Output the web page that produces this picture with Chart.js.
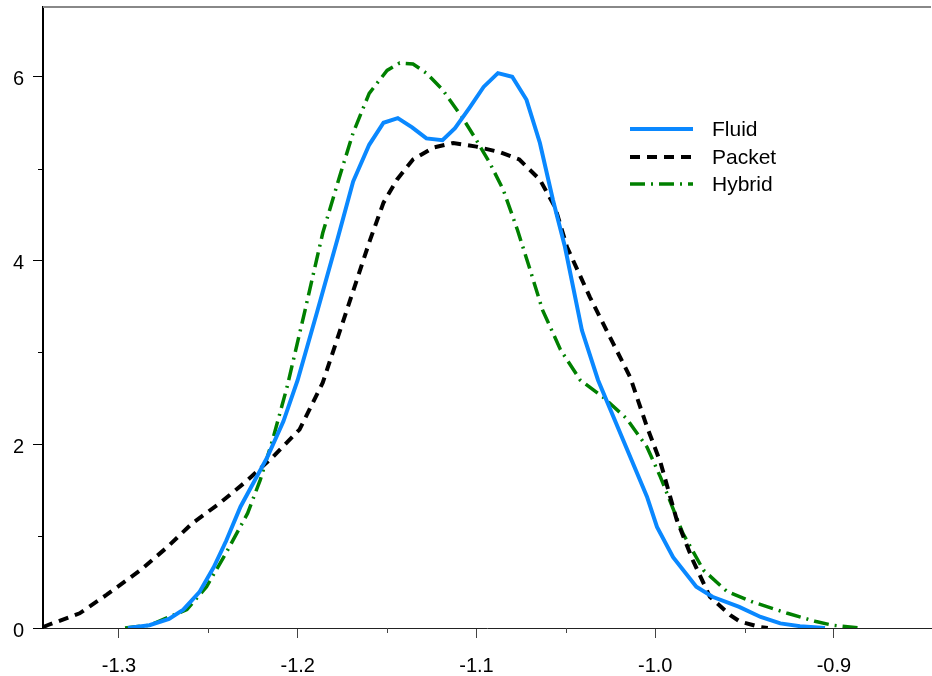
<!DOCTYPE html>
<html>
<head>
<meta charset="utf-8">
<script src="https://cdn.jsdelivr.net/npm/chart.js@4/dist/chart.umd.min.js"></script>
<style>
  body { margin: 0; background: #fff; }
  #wrap { width: 932px; height: 676px; }
</style>
</head>
<body>
<div id="wrap"><canvas id="chart" width="932" height="676"></canvas></div>
<script>
// density curves
const fluidX = [-1.295, -1.283, -1.272, -1.264, -1.255, -1.247, -1.240, -1.232, -1.217, -1.208,
  -1.200, -1.189, -1.1775, -1.169, -1.160, -1.152, -1.144, -1.136, -1.128, -1.119,
  -1.112, -1.104, -1.096, -1.088, -1.080, -1.072, -1.0645, -1.0572, -1.0505, -1.041,
  -1.032, -1.018, -1.0046, -0.999, -0.990, -0.977, -0.968, -0.953, -0.941, -0.930,
  -0.919, -0.905];
const fluidY = [0.0, 0.03, 0.10, 0.20, 0.39, 0.66, 0.95, 1.32, 1.86, 2.25,
  2.70, 3.45, 4.25, 4.86, 5.26, 5.50, 5.55, 5.45, 5.33, 5.31,
  5.44, 5.66, 5.89, 6.04, 6.00, 5.75, 5.28, 4.66, 4.15, 3.24,
  2.70, 2.05, 1.43, 1.10, 0.77, 0.45, 0.34, 0.23, 0.12, 0.05,
  0.02, 0.0];

const packetX = [-1.3425, -1.340, -1.322, -1.307, -1.288, -1.273, -1.259, -1.2435, -1.228, -1.214,
  -1.199, -1.186, -1.171, -1.1596, -1.152, -1.1445, -1.1355, -1.124, -1.113, -1.100,
  -1.087, -1.076, -1.0645, -1.056, -1.0494, -1.0365, -1.0236, -1.014, -1.0046, -0.997,
  -0.988, -0.979, -0.9694, -0.958, -0.9526, -0.941, -0.937];
const packetY = [0.01, 0.03, 0.16, 0.36, 0.63, 0.88, 1.14, 1.36, 1.61, 1.86,
  2.16, 2.67, 3.55, 4.22, 4.63, 4.88, 5.10, 5.23, 5.28, 5.24,
  5.18, 5.10, 4.88, 4.58, 4.15, 3.60, 3.10, 2.73, 2.19, 1.80,
  1.18, 0.74, 0.34, 0.14, 0.07, 0.01, 0.0];

const hybridX = [-1.2966, -1.283, -1.262, -1.251, -1.240, -1.228, -1.221, -1.214, -1.206, -1.196,
  -1.186, -1.176, -1.169, -1.160, -1.150, -1.143, -1.1355, -1.128, -1.119, -1.108,
  -1.100, -1.0925, -1.085, -1.077, -1.070, -1.063, -1.053, -1.042, -1.029, -1.016,
  -1.0046, -0.997, -0.9845, -0.973, -0.960, -0.945, -0.926, -0.910, -0.9006, -0.8855];
const hybridY = [0.0, 0.03, 0.20, 0.45, 0.82, 1.25, 1.61, 2.05, 2.62, 3.45,
  4.30, 4.95, 5.39, 5.82, 6.07, 6.15, 6.14, 6.04, 5.86, 5.56,
  5.31, 5.06, 4.77, 4.33, 3.90, 3.46, 3.03, 2.70, 2.51, 2.28,
  1.97, 1.64, 1.03, 0.63, 0.40, 0.28, 0.16, 0.07, 0.03, 0.0];

const seriesNames = ["Fluid", "Packet", "Hybrid"];

const majorX = [-1.3, -1.2, -1.1, -1.0, -0.9];
const minorX = [-1.25, -1.15, -1.05, -0.95];
const majorY = [0, 2, 4, 6];
const minorY = [1, 3, 5];

const FAMILY = "'Liberation Sans', Arial, sans-serif";
const FONT = { family: FAMILY, size: 20 };

function pts(xs, ys) {
  return xs.map((x, i) => ({ x: x, y: ys[i] }));
}

// top frame line, minor ticks and the legend inside the plot
const extras = {
  id: "extras",
  afterDraw(chart) {
    const ctx = chart.ctx;
    const a = chart.chartArea;
    const sx = chart.scales.x, sy = chart.scales.y;
    ctx.save();
    ctx.strokeStyle = "#888";
    ctx.lineWidth = 2;
    ctx.beginPath();
    ctx.moveTo(a.left, a.top);
    ctx.lineTo(a.right, a.top);
    ctx.stroke();

    ctx.lineWidth = 1;
    ctx.strokeStyle = "#444";
    minorX.forEach(v => {
      const px = Math.round(sx.getPixelForValue(v)) + 0.5;
      ctx.beginPath();
      ctx.moveTo(px, a.bottom);
      ctx.lineTo(px, a.bottom + 5);
      ctx.stroke();
    });
    ctx.strokeStyle = "#000";
    minorY.forEach(v => {
      const py = Math.round(sy.getPixelForValue(v)) + 0.5;
      ctx.beginPath();
      ctx.moveTo(a.left - 5, py);
      ctx.lineTo(a.left, py);
      ctx.stroke();
    });

    // legend
    const ly = [129, 157, 184];
    chart.data.datasets.forEach((ds, i) => {
      ctx.strokeStyle = ds.borderColor;
      ctx.lineWidth = ds.borderWidth;
      ctx.setLineDash(ds.borderDash || []);
      ctx.lineCap = "butt";
      ctx.beginPath();
      ctx.moveTo(630, ly[i]);
      ctx.lineTo(693, ly[i]);
      ctx.stroke();
      ctx.setLineDash([]);
      ctx.fillStyle = "#000";
      ctx.font = "21px " + FAMILY;
      ctx.textBaseline = "middle";
      ctx.textAlign = "left";
      ctx.fillText(ds.label, 712, ly[i] + 1);
    });
    ctx.restore();
  }
};

new Chart(document.getElementById("chart"), {
  type: "line",
  data: {
    datasets: [
      {
        label: seriesNames[0],
        data: pts(fluidX, fluidY),
        borderColor: "#0a88ff",
        borderWidth: 4,
        pointRadius: 0,
        tension: 0
      },
      {
        label: seriesNames[1],
        data: pts(packetX, packetY),
        borderColor: "#000",
        borderWidth: 4,
        borderDash: [10, 7],
        pointRadius: 0,
        tension: 0
      },
      {
        label: seriesNames[2],
        data: pts(hybridX, hybridY),
        borderColor: "#008000",
        borderWidth: 3.5,
        borderDash: [15, 6, 2, 6],
        pointRadius: 0,
        tension: 0
      }
    ]
  },
  options: {
    responsive: false,
    animation: false,
    layout: { padding: { top: 7, right: 1, left: 0, bottom: 0 } },
    plugins: {
      legend: { display: false },
      tooltip: { enabled: false }
    },
    scales: {
      x: {
        type: "linear",
        min: -1.3425,
        max: -0.8457,
        afterBuildTicks: s => { s.ticks = majorX.map(v => ({ value: v })); },
        afterFit: s => { s.height = 48; s.paddingLeft = 0; s.paddingRight = 0; },
        ticks: {
          color: "#000",
          font: FONT,
          padding: 16,
          maxRotation: 0,
          callback: v => v.toFixed(1)
        },
        grid: { drawOnChartArea: false, tickLength: 10, tickColor: "#444" },
        border: { color: "#222", width: 1 }
      },
      y: {
        min: 0,
        max: 6.76,
        afterBuildTicks: s => { s.ticks = majorY.map(v => ({ value: v })); },
        afterFit: s => { s.width = 43; s.paddingTop = 0; s.paddingBottom = 0; },
        ticks: { color: "#000", font: FONT, padding: 9, labelOffset: 3 },
        grid: { drawOnChartArea: false, tickLength: 10, tickColor: "#000" },
        border: { color: "#000", width: 2 }
      }
    }
  },
  plugins: [extras]
});
</script>
</body>
</html>
